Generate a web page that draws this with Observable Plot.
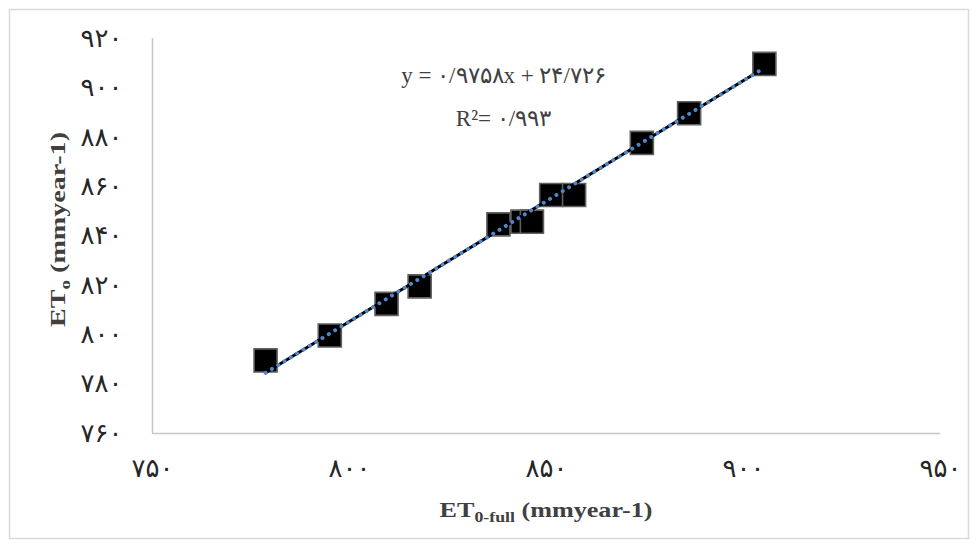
<!DOCTYPE html>
<html>
<head>
<meta charset="utf-8">
<script src="https://cdn.jsdelivr.net/npm/d3@7"></script>
<script src="https://cdn.jsdelivr.net/npm/@observablehq/plot@0.6"></script>
<style>
  html, body { margin: 0; padding: 0; background: #fff; }
  #chart { position: relative; width: 978px; height: 548px; }
</style>
</head>
<body>
<div id="chart"></div>
<script>
// Data
const et0Full = [778.7, 795.0, 809.4, 817.8, 837.8, 843.9, 846.3, 851.2, 857.0, 874.2, 886.2, 905.3];
const et0 = [789.6, 799.7, 812.5, 819.6, 844.7, 845.8, 845.8, 856.6, 856.6, 877.7, 889.7, 909.7];
const slope = 0.9758;
const intercept = 24.726;
const r2 = 0.993;
const xTicks = [750, 800, 850, 900, 950];
const yTicks = [760, 780, 800, 820, 840, 860, 880, 900, 920];
const equationText = "y = ۰/۹۷۵۸x + ۲۴/۷۲۶";
const r2Text = "R²= ۰/۹۹۳";
const xTitle = ["ET", "0-full", " (mmyear-1)"];
const yTitle = ["ET", "o", " (mmyear-1)"];

const fa = "۰۱۲۳۴۵۶۷۸۹";
const toFa = v => String(v).replace(/\d/g, d => fa[d]);

const points = et0Full.map((x, i) => ({x, y: et0[i]}));
const xMin = d3.min(et0Full), xMax = d3.max(et0Full);
const trend = [xMin, xMax].map(x => ({x, y: slope * x + intercept}));

const chart = Plot.plot({
  width: 978,
  height: 548,
  marginLeft: 152,
  marginRight: 38,
  marginTop: 38,
  marginBottom: 115,
  x: {domain: [750, 950]},
  y: {domain: [760, 920]},
  style: {fontFamily: "DejaVu Sans", background: "white", color: "#262626", overflow: "visible"},
  marks: [
    Plot.ruleX([750], {stroke: "#c6c6c6", strokeWidth: 1.5}),
    Plot.ruleY([760], {stroke: "#c6c6c6", strokeWidth: 1.5}),
    Plot.axisX(xTicks, {tickSize: 0, tickPadding: 25, tickFormat: toFa, fontSize: 26, label: null}),
    Plot.axisY(yTicks, {tickSize: 0, tickPadding: 30, tickFormat: toFa, fontSize: 26, label: null}),
    Plot.dot(points, {x: "x", y: "y", symbol: "square", r: 13, fill: "black", stroke: "#606060", strokeWidth: 1.6}),
    Plot.line(trend, {x: "x", y: "y", stroke: "black", strokeWidth: 3}),
    Plot.line(trend, {x: "x", y: "y", stroke: "#4f86cc", strokeWidth: 4, strokeDasharray: "0.01 7.4", strokeLinecap: "round"}),
    Plot.text([equationText], {frameAnchor: "top", lineAnchor: "middle", dx: -43, dy: 37, fontFamily: "Liberation Serif", fontSize: 23, fill: "#404040"}),
    Plot.text([r2Text], {frameAnchor: "top", lineAnchor: "middle", dx: -43, dy: 80, fontFamily: "Liberation Serif", fontSize: 23, fill: "#404040"})
  ]
});

const svg = d3.select(chart);
// outer chart border
svg.insert("rect", ":first-child")
  .attr("x", 9.5).attr("y", 9.5).attr("width", 959).attr("height", 529)
  .attr("fill", "none").attr("stroke", "#d9d9d9").attr("stroke-width", 1.5);

const xr = chart.scale("x").range, yr = chart.scale("y").range;
const xc = (xr[0] + xr[1]) / 2, yc = (yr[0] + yr[1]) / 2;

function title(g, parts, len) {
  const t = g.append("text")
    .attr("text-anchor", "middle")
    .attr("font-family", "Liberation Serif")
    .attr("font-weight", "bold")
    .attr("font-size", 22)
    .attr("fill", "#404040")
    .attr("textLength", len)
    .attr("lengthAdjust", "spacingAndGlyphs");
  t.append("tspan").text(parts[0]);
  t.append("tspan").attr("font-size", 15).attr("dy", 5).text(parts[1]);
  t.append("tspan").attr("dy", -5).text(parts[2]);
  return t;
}
title(svg.append("g").attr("transform", `translate(${xc},517)`), xTitle, 213);
title(svg.append("g").attr("transform", `translate(65,${yc - 6}) rotate(-90)`), yTitle, 195);

document.getElementById("chart").appendChild(chart);
</script>
</body>
</html>
